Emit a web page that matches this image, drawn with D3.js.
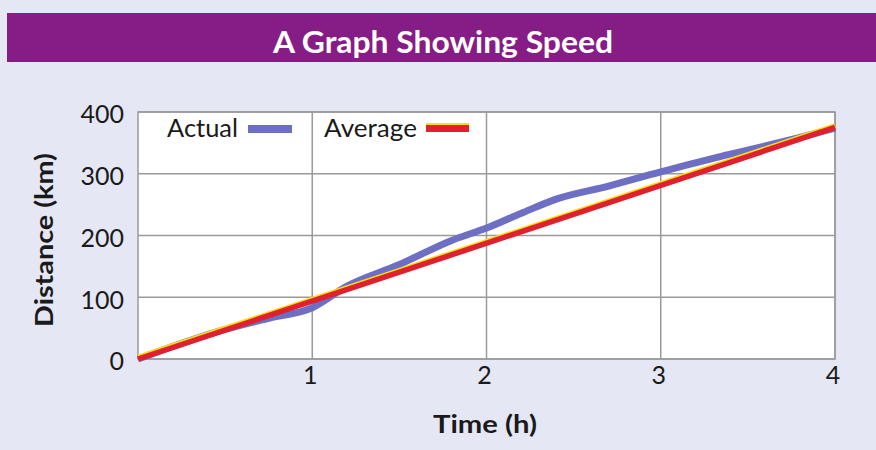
<!DOCTYPE html>
<html>
<head>
<meta charset="utf-8">
<script src="https://cdn.jsdelivr.net/npm/d3@7"></script>
<style>
  html, body { margin: 0; padding: 0; background: #e6e7f5; }
  svg { display: block; }
</style>
</head>
<body>
<svg id="chart" width="876" height="450"></svg>
<script>
// ---- data ----
const title = "A Graph Showing Speed";
const xLabel = "Time (h)";
const yLabel = "Distance (km)";
const xTicks = [1, 2, 3, 4];
const yTicks = [0, 100, 200, 300, 400];
const seriesNames = ["Actual", "Average"];
const actualTime = [0, 0.5, 0.75, 1, 1.2, 1.5, 1.8, 2, 2.2, 2.4, 2.7, 3, 3.3, 3.6, 3.8, 4];
const actualDist = [0, 48, 66, 83, 118, 153, 192, 212, 236, 259, 280, 303, 325, 345, 359, 374];
const averageTime = [0, 4];
const averageDist = [0, 375];

// ---- layout ----
const W = 876, H = 450;
const plot = { left: 138, right: 835, top: 112, bottom: 359 };
const colors = { band: "#861c86", bg: "#e6e7f5", grid: "#9a9a9a", actual: "#6c6fc3", average: "#e0202f", fringe: "#f5e11a", text: "#1a1a1a" };
const font = "Lato, 'Noto Sans', sans-serif";

const svg = d3.select("#chart");
svg.append("rect").attr("width", W).attr("height", H).attr("fill", colors.bg);

// title band
svg.append("rect").attr("x", 7).attr("y", 13).attr("width", W - 7).attr("height", 49).attr("fill", colors.band);
svg.append("text").attr("x", 443).attr("y", 53).attr("text-anchor", "middle")
  .attr("font-family", font).attr("font-weight", 700).attr("font-size", 30)
  .attr("fill", "#ffffff").attr("textLength", 340).attr("lengthAdjust", "spacingAndGlyphs")
  .text(title);

const x = d3.scaleLinear().domain([0, 4]).range([plot.left, plot.right]);
const y = d3.scaleLinear().domain([0, 400]).range([plot.bottom, plot.top]);

// plot background
svg.append("rect").attr("x", plot.left).attr("y", plot.top)
  .attr("width", plot.right - plot.left).attr("height", plot.bottom - plot.top)
  .attr("fill", "#ffffff").attr("stroke", colors.grid).attr("stroke-width", 1.5);

// grid
const g = svg.append("g");
g.selectAll(".hg").data(yTicks).join("line")
  .attr("x1", plot.left).attr("x2", plot.right)
  .attr("y1", d => y(d)).attr("y2", d => y(d))
  .attr("stroke", colors.grid).attr("stroke-width", 1.5);
g.selectAll(".vg").data(xTicks).join("line")
  .attr("x1", d => x(d)).attr("x2", d => x(d))
  .attr("y1", plot.top).attr("y2", plot.bottom)
  .attr("stroke", colors.grid).attr("stroke-width", 1.5);

// y tick labels
svg.append("g").selectAll("text").data(yTicks).join("text")
  .attr("x", 124).attr("y", d => y(d) + 5)
  .attr("text-anchor", "end").attr("dominant-baseline", "middle")
  .attr("font-family", font).attr("font-size", 25).attr("fill", colors.text)
  .text(d => d);

// x tick labels
svg.append("g").selectAll("text").data(xTicks).join("text")
  .attr("x", d => x(d) - 2).attr("y", plot.bottom + 19)
  .attr("text-anchor", "middle").attr("dominant-baseline", "middle")
  .attr("font-family", font).attr("font-size", 25).attr("fill", colors.text)
  .text(d => d);

// axis titles
svg.append("text").attr("x", 485).attr("y", 433).attr("text-anchor", "middle")
  .attr("font-family", font).attr("font-weight", 700).attr("font-size", 25).attr("fill", colors.text)
  .attr("textLength", 104).attr("lengthAdjust", "spacingAndGlyphs")
  .text(xLabel);
svg.append("text").attr("transform", "translate(53,240) rotate(-90)").attr("text-anchor", "middle")
  .attr("font-family", font).attr("font-weight", 700).attr("font-size", 25).attr("fill", colors.text)
  .attr("textLength", 174).attr("lengthAdjust", "spacingAndGlyphs")
  .text(yLabel);

// lines
const line = d3.line().x(d => x(d[0])).y(d => y(d[1])).curve(d3.curveMonotoneX);
const actualData = d3.zip(actualTime, actualDist);
const averageData = d3.zip(averageTime, averageDist);

svg.append("path").datum(actualData).attr("d", line)
  .attr("fill", "none").attr("stroke", colors.actual).attr("stroke-width", 7)
  .attr("stroke-linejoin", "round");
svg.append("path").datum(averageData).attr("d", line).attr("transform", "translate(0,-1.8)")
  .attr("fill", "none").attr("stroke", colors.fringe).attr("stroke-width", 5);
svg.append("path").datum(averageData).attr("d", line)
  .attr("fill", "none").attr("stroke", colors.average).attr("stroke-width", 5.5);

// legend
const leg = svg.append("g").attr("font-family", font).attr("font-size", 25).attr("fill", colors.text);
leg.append("text").attr("x", 167).attr("y", 137).attr("textLength", 71).attr("lengthAdjust", "spacingAndGlyphs").text(seriesNames[0]);
leg.append("rect").attr("x", 248).attr("y", 125).attr("width", 44).attr("height", 8).attr("fill", colors.actual);
leg.append("text").attr("x", 324).attr("y", 137).attr("textLength", 93).attr("lengthAdjust", "spacingAndGlyphs").text(seriesNames[1]);
leg.append("rect").attr("x", 426).attr("y", 123).attr("width", 43).attr("height", 2).attr("fill", colors.fringe);
leg.append("rect").attr("x", 426).attr("y", 125).attr("width", 43).attr("height", 7).attr("fill", colors.average);
</script>
</body>
</html>
